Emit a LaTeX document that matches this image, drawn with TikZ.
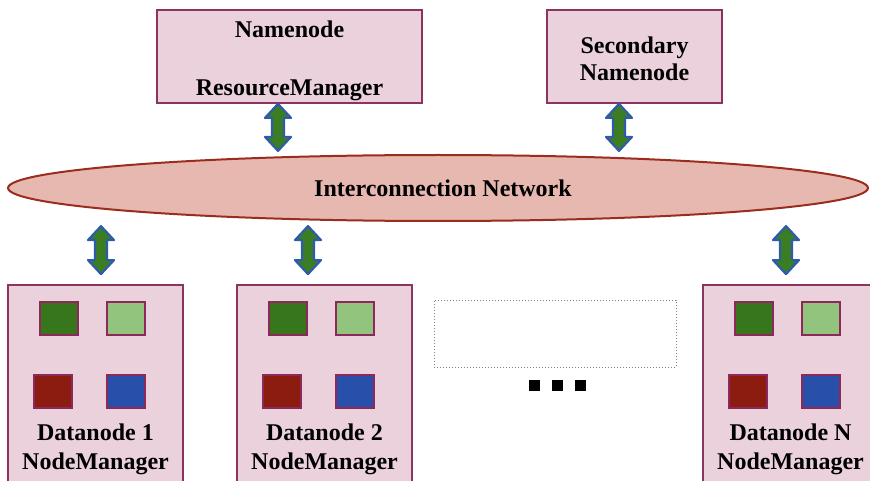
\documentclass[tikz,border=0pt]{standalone}
\usepackage{fontspec}
\setmainfont{Liberation Serif}
\usetikzlibrary{calc,shapes.geometric}

\definecolor{boxfill}{RGB}{234,209,220}
\definecolor{boxline}{RGB}{139,52,98}
\definecolor{netfill}{RGB}{230,184,175}
\definecolor{netline}{RGB}{155,45,30}
\definecolor{darkgreen}{RGB}{56,118,29}
\definecolor{lightgreen}{RGB}{147,196,125}
\definecolor{darkred}{RGB}{140,28,16}
\definecolor{slotblue}{RGB}{40,80,170}
\definecolor{slotline}{RGB}{140,40,90}
\definecolor{arrowgreen}{RGB}{59,125,35}
\definecolor{arrowblue}{RGB}{47,92,170}

\tikzset{
  txt/.style={font=\fontsize{24}{29}\selectfont\bfseries, text=black, align=center},
  hostbox/.style={draw=boxline, fill=boxfill, line width=1.8pt, rectangle, inner sep=0pt},
  slot/.style={draw=slotline, line width=1.4pt, rectangle, inner sep=0pt,
    minimum width=38pt, minimum height=33pt},
  dotbox/.style={draw=black!50, dotted, line width=1pt, rectangle, inner sep=0pt},
  blob/.style={fill=black, rectangle, inner sep=0pt, minimum size=11pt},
  % vertical block arrow with heads at both ends, drawn between two points
  bidir/.style={draw=arrowblue, fill=arrowgreen, line width=2.2pt, line join=round,
    to path={let \p1=(\tikztostart), \p2=(\tikztotarget) in
      (\x1,\y1) -- (\x1+13pt,\y1-14pt) -- (\x1+6pt,\y1-14pt) -- (\x1+6pt,\y2+14pt)
      -- (\x1+13pt,\y2+14pt) -- (\x1,\y2) -- (\x1-13pt,\y2+14pt) -- (\x1-6pt,\y2+14pt)
      -- (\x1-6pt,\y1-14pt) -- (\x1-13pt,\y1-14pt) -- cycle}},
}

\begin{document}
\begin{tikzpicture}[x=1pt,y=-1pt]
\useasboundingbox (0,0) rectangle (870,481);
\clip (0,0) rectangle (870,481);

% master services
\node[hostbox, minimum width=265pt, minimum height=93pt] (nn) at (289.5,56.5) {};
\node[txt] (nn-t) at ($(nn)+(0,4.5)$) {Namenode\\[29pt]ResourceManager};
\node[hostbox, minimum width=175pt, minimum height=93pt] (sn) at (634.5,56.5) {};
\node[txt, font=\fontsize{24}{27}\selectfont\bfseries] (sn-t) at ($(sn)+(0,2)$)
  {Secondary\\Namenode};

% network
\node[ellipse, draw=netline, fill=netfill, line width=2pt, inner sep=0pt,
  minimum width=860pt, minimum height=66pt] (net) at (438,188) {};
\node[txt] (netlabel) at (443,188) {Interconnection Network};

% worker nodes
\foreach \name/\cx/\lab in {dn1/95.5/Datanode 1, dn2/324.5/Datanode 2, dnN/790.5/Datanode N}{
  \node[hostbox, minimum width=175pt, minimum height=200pt] (\name) at (\cx,385) {};
  \node[slot, fill=darkgreen]  (\name-a) at ($(\name)+(-36.5,-66.5)$) {};
  \node[slot, fill=lightgreen] (\name-b) at ($(\name)+(30.5,-66.5)$) {};
  \node[slot, fill=darkred]    (\name-c) at ($(\name)+(-42.5,6.5)$) {};
  \node[slot, fill=slotblue]   (\name-d) at ($(\name)+(30.5,6.5)$) {};
  \node[txt] (\name-t) at ($(\name)+(0,64)$) {\lab\\NodeManager};
}

% placeholder for further workers
\node[dotbox, minimum width=242pt, minimum height=67pt] (more) at (555,333.5) {};
\node[blob] (dot1) at (534.5,385.5) {};
\node[blob] (dot2) at (557.5,385.5) {};
\node[blob] (dot3) at (580.5,385.5) {};

% links to the network
\draw[bidir] ($(nn.south)+(-11.5,0)$) to ($(nn.south)+(-11.5,47)$);
\draw[bidir] ($(sn.south)+(-15.5,0)$) to ($(sn.south)+(-15.5,47)$);
\draw[bidir] ($(dn1.north)+(5.5,-58)$) to ($(dn1.north)+(5.5,-10)$);
\draw[bidir] ($(dn2.north)+(-16.5,-58)$) to ($(dn2.north)+(-16.5,-10)$);
\draw[bidir] ($(dnN.north)+(-4.5,-58)$) to ($(dnN.north)+(-4.5,-10)$);
\end{tikzpicture}
\end{document}
